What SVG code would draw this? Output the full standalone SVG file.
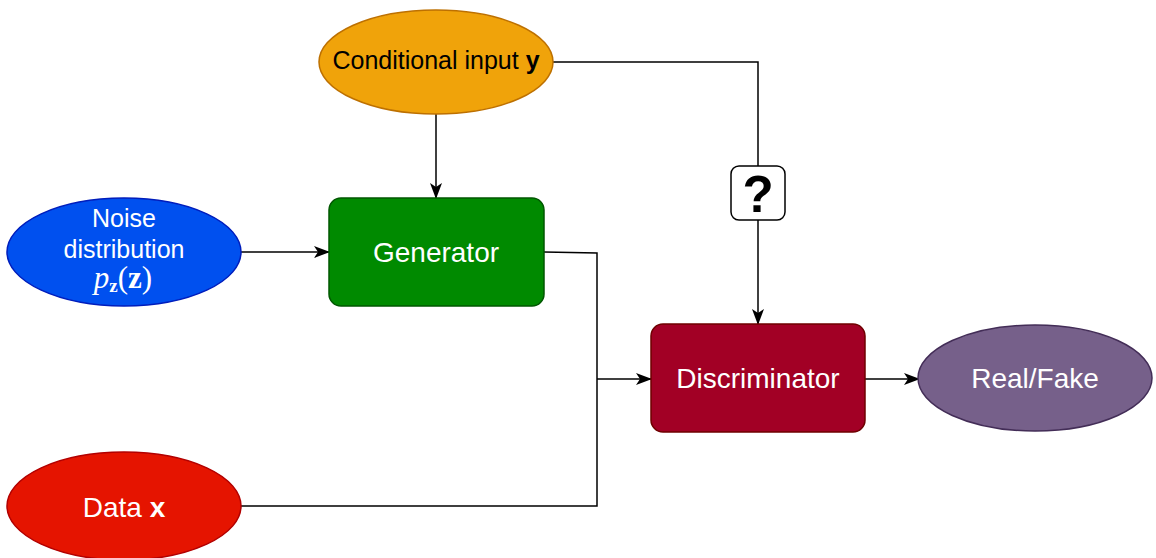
<svg xmlns="http://www.w3.org/2000/svg" width="1156" height="558" viewBox="0 0 1156 558">
<defs>
<marker id="arr" markerWidth="16" markerHeight="12" refX="15" refY="6" orient="auto" markerUnits="userSpaceOnUse">
<path d="M0,0 L16,6 L0,12 L4,6 Z" fill="#000"/>
</marker>
<style>
.lbl{font-family:"Liberation Sans",Arial,sans-serif;font-size:28px;text-anchor:middle;dominant-baseline:central}
.s25{font-size:25px}
.w{fill:#fff}
.k{fill:#000}
.conn{fill:none;stroke:#000;stroke-width:1.5}
.math{font-family:"Liberation Serif","Times New Roman",serif}
</style>
</defs>
<rect width="1156" height="558" fill="#fff"/>
<g id="connectors">
<path class="conn" d="M553,62 L758,62 L758,166"/>
<path class="conn" d="M758,220 L758,324" marker-end="url(#arr)"/>
<path class="conn" d="M436,114 L436,198" marker-end="url(#arr)"/>
<path class="conn" d="M241,252 L329,252" marker-end="url(#arr)"/>
<path class="conn" d="M544,252 L597,253 L597,379"/>
<path class="conn" d="M241,506 L597,506 L597,379"/>
<path class="conn" d="M597,379 L651,379" marker-end="url(#arr)"/>
<path class="conn" d="M865,379 L919,379" marker-end="url(#arr)"/>
</g>
<g id="question">
<rect x="731" y="166" width="54" height="54" rx="8" fill="#fff" stroke="#000" stroke-width="1.5"/>
<text x="758" y="212" style="font-family:'Liberation Sans',Arial,sans-serif;font-size:51px;font-weight:bold;text-anchor:middle" fill="#000">?</text>
</g>
<g id="conditional">
<ellipse cx="436" cy="62" rx="117" ry="52" fill="#f0a30a" stroke="#bd7000" stroke-width="1.5"/>
<text x="436" y="60" class="lbl k s25">Conditional input <tspan font-weight="bold">y</tspan></text>
</g>
<g id="noise">
<ellipse cx="124" cy="252" rx="117" ry="54" fill="#0050ef" stroke="#001dbc" stroke-width="1.5"/>
<text x="124" y="218" class="lbl w s25">Noise</text>
<text x="124" y="249" class="lbl w s25">distribution</text>
<text x="123" y="288" class="w math" style="font-size:31px;text-anchor:middle"><tspan font-style="italic">p</tspan><tspan font-weight="bold" font-size="19" dy="4">z</tspan><tspan dy="-4">(</tspan><tspan font-weight="bold">z</tspan>)</text>
</g>
<g id="generator">
<rect x="329" y="198" width="215" height="108" rx="12" fill="#008a00" stroke="#005700" stroke-width="1.5"/>
<text x="436" y="252" class="lbl w">Generator</text>
</g>
<g id="data">
<ellipse cx="124" cy="506" rx="117" ry="54" fill="#e51400" stroke="#b20000" stroke-width="1.5"/>
<text x="124" y="507" class="lbl w">Data <tspan font-weight="bold">x</tspan></text>
</g>
<g id="discriminator">
<rect x="651" y="324" width="214" height="108" rx="12" fill="#a20025" stroke="#6f0000" stroke-width="1.5"/>
<text x="758" y="378" class="lbl w">Discriminator</text>
</g>
<g id="realfake">
<ellipse cx="1035" cy="378" rx="117" ry="53" fill="#76608a" stroke="#432d57" stroke-width="1.5"/>
<text x="1035" y="378" class="lbl w">Real/Fake</text>
</g>
</svg>
